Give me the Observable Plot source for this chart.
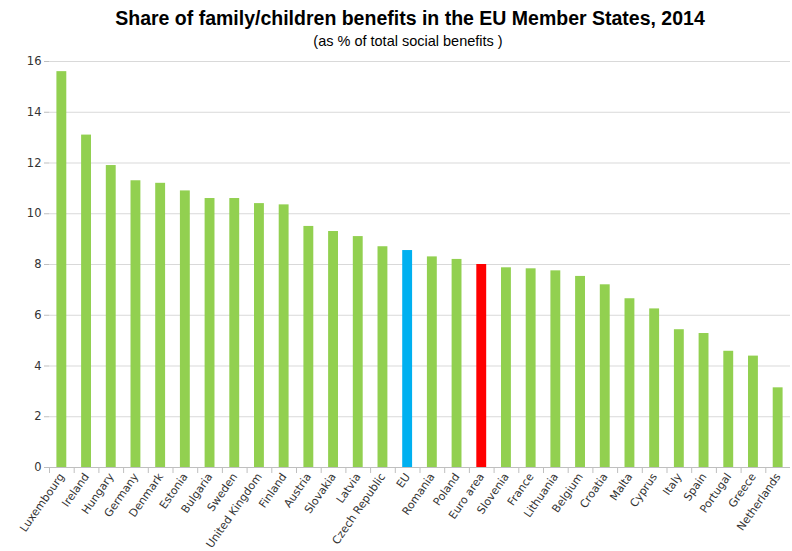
<!DOCTYPE html>
<html>
<head>
<meta charset="utf-8">
<script src="https://cdn.jsdelivr.net/npm/d3@7"></script>
<script src="https://cdn.jsdelivr.net/npm/@observablehq/plot@0.6"></script>
<style>
  body { margin: 0; background: #fff; }
  #wrap { position: relative; width: 792px; height: 551px; overflow: hidden; }
  #title { position: absolute; left: 0; width: 820px; top: 7px; text-align: center;
    font-family: "Liberation Sans Narrow", "Liberation Sans", Arial, sans-serif; font-weight: bold; font-size: 19.5px; color: #000; }
  #subtitle { position: absolute; left: 0; width: 816px; top: 33px; text-align: center;
    font-family: "Liberation Sans Narrow", "Liberation Sans", Arial, sans-serif; font-size: 14.5px; color: #000; }
  #chart { position: absolute; left: 0; top: 50px; }
</style>
</head>
<body>
<div id="wrap">
  <div id="title">Share of family/children benefits in the EU Member States, 2014</div>
  <div id="subtitle">(as % of total social benefits )</div>
  <div id="chart"></div>
</div>
<script>
const countries = ["Luxembourg","Ireland","Hungary","Germany","Denmark","Estonia","Bulgaria","Sweden","United Kingdom","Finland","Austria","Slovakia","Latvia","Czech Republic","EU","Romania","Poland","Euro area","Slovenia","France","Lithuania","Belgium","Croatia","Malta","Cyprus","Italy","Spain","Portugal","Greece","Netherlands"];
const values = [15.6,13.1,11.9,11.3,11.2,10.9,10.6,10.6,10.4,10.35,9.5,9.3,9.1,8.7,8.55,8.3,8.2,8.0,7.87,7.83,7.75,7.53,7.2,6.65,6.25,5.43,5.28,4.58,4.39,3.14];
const groups = countries.map(c => c === "EU" ? "EU" : c === "Euro area" ? "Euro area" : "Country");
const yTicks = [0,2,4,6,8,10,12,14,16];

const data = countries.map((c, i) => ({country: c, value: values[i], group: groups[i]}));

const width = 792, height = 501, mL = 49, mR = 2;
const step = (width - mL - mR) / countries.length;

const chart = Plot.plot({
  width, height,
  marginLeft: mL, marginRight: mR, marginTop: 11, marginBottom: 84,
  style: {fontFamily: "DejaVu Sans, Verdana, sans-serif", fontSize: "11px", color: "#333"},
  x: {domain: countries, paddingInner: 0.6, paddingOuter: 0.3, round: false, label: null},
  y: {domain: [0, 16], ticks: yTicks, label: null},
  color: {domain: ["Country","EU","Euro area"], range: ["#92D050","#00B0F0","#FF0000"]},
  marks: [
    Plot.gridY(yTicks, {stroke: "#d9d9d9", strokeOpacity: 1}),
    Plot.barY(data, {x: "country", y: "value", fill: "group"}),
    Plot.ruleY([0], {stroke: "#bfbfbf"}),
    Plot.axisY(yTicks, {tickSize: 5, tickPadding: 3, stroke: "#bfbfbf", fill: "#333", fontSize: 11.5, label: null}),
    Plot.axisX({tickSize: 6, text: null, dx: -step / 2, stroke: "#bfbfbf", label: null}),
    Plot.axisX({tickSize: 0, tickPadding: 7, tickRotate: -55, fill: "#333", label: null})
  ]
});
document.getElementById("chart").appendChild(chart);
</script>
</body>
</html>
